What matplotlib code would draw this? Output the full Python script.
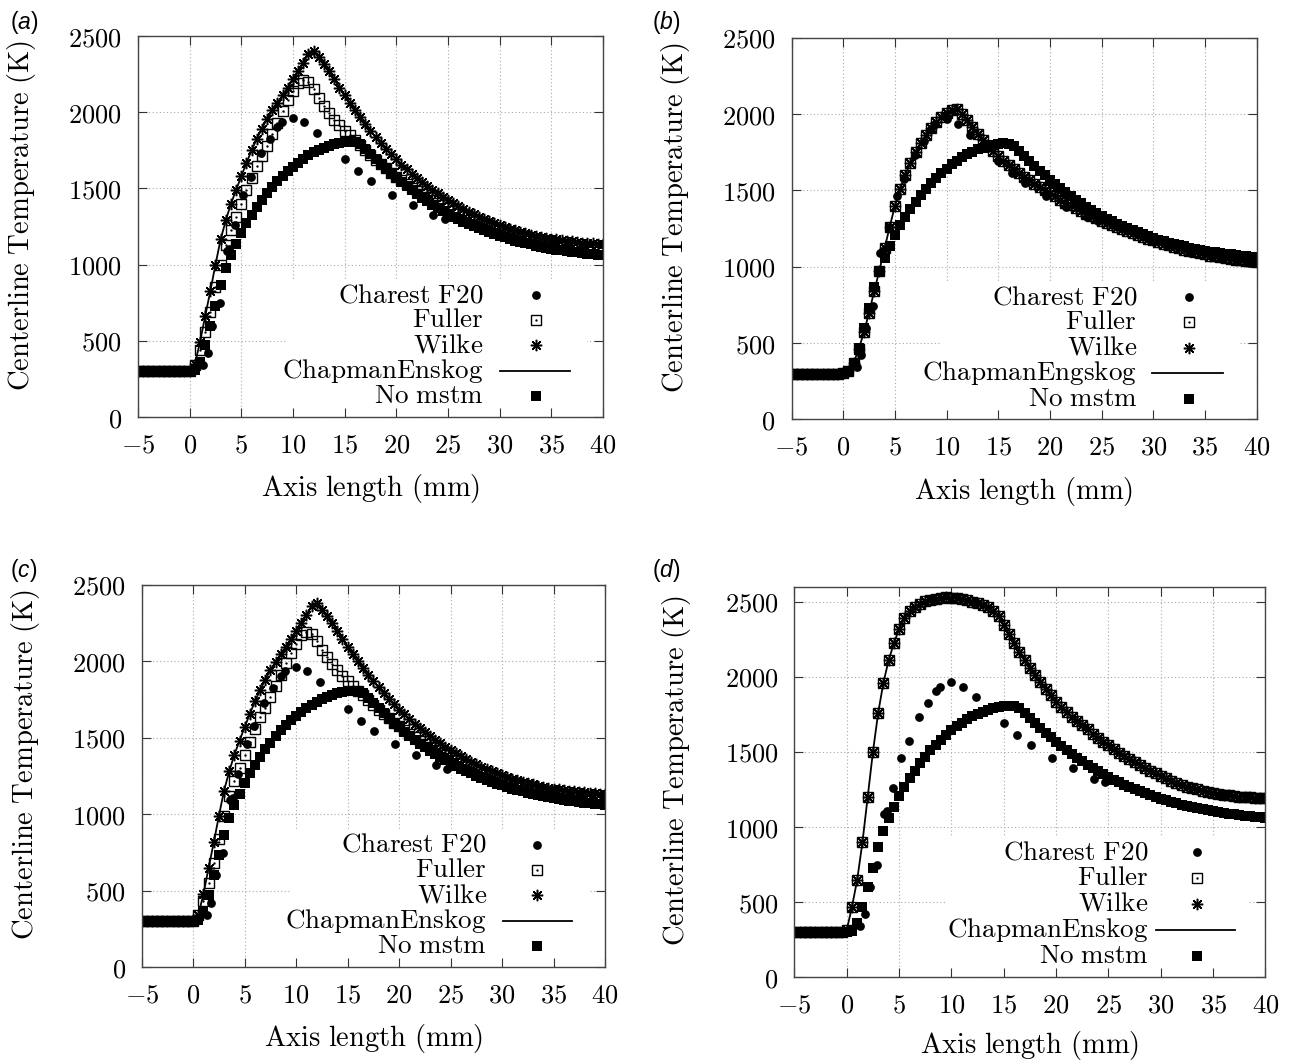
import numpy as np
import matplotlib
matplotlib.use('Agg')
import matplotlib.pyplot as plt
from matplotlib.patches import Rectangle

plt.rcParams['mathtext.fontset'] = 'cm'
plt.rcParams['mathtext.it'] = 'Liberation Sans:italic'
plt.rcParams['mathtext.rm'] = 'Liberation Sans'
plt.rcParams['mathtext.sf'] = 'Liberation Sans'
plt.rcParams['mathtext.bf'] = 'Liberation Sans:bold'

# ---------------- data ----------------
# sampling positions along the axis (mm), every 0.5 mm from -5 to 40
x_mm = np.arange(-5.0, 40.01, 0.5)

t_plateau = [300, 300, 300, 300, 300, 300, 300, 300, 300, 300]  # -5 .. -0.5 mm

t_nomstm = t_plateau + [
    300, 310, 360, 470, 600, 730, 865, 975, 1060, 1135,
    1205, 1270, 1325, 1375, 1425, 1468, 1510, 1548, 1582, 1614,
    1643, 1670, 1695, 1717, 1737, 1754, 1768, 1780, 1790, 1798,
    1804, 1808, 1805, 1790, 1760, 1725, 1692, 1660, 1628, 1598,
    1568, 1540, 1513, 1487, 1462, 1438, 1415, 1393, 1372, 1352,
    1333, 1315, 1298, 1282, 1267, 1252, 1238, 1225, 1212, 1200,
    1189, 1178, 1168, 1158, 1149, 1141, 1133, 1125, 1118, 1111,
    1105, 1099, 1094, 1089, 1084, 1080, 1076, 1072, 1069, 1066,
    1063]

t_a_wilke = t_plateau + [
    305, 345, 490, 660, 825, 1000, 1165, 1290, 1400, 1490,
    1580, 1668, 1750, 1825, 1893, 1958, 2012, 2062, 2112, 2162,
    2215, 2270, 2325, 2385, 2405, 2360, 2318, 2270, 2218, 2162,
    2110, 2060, 2012, 1966, 1922, 1878, 1837, 1797, 1760, 1724,
    1690, 1657, 1626, 1596, 1568, 1541, 1515, 1490, 1467, 1444,
    1423, 1402, 1383, 1364, 1346, 1329, 1313, 1298, 1284, 1270,
    1257, 1245, 1234, 1224, 1214, 1205, 1197, 1189, 1182, 1176,
    1170, 1165, 1160, 1156, 1152, 1148, 1145, 1142, 1139, 1137,
    1135]

t_a_fuller = t_plateau + [
    303, 340, 440, 560, 690, 850, 1000, 1130, 1230, 1312,
    1400, 1488, 1570, 1648, 1712, 1780, 1858, 1930, 2008, 2078,
    2138, 2192, 2212, 2196, 2150, 2092, 2040, 1992, 1952, 1915,
    1880, 1848, 1815, 1783, 1750, 1718, 1688, 1659, 1631, 1604,
    1578, 1553, 1529, 1506, 1484, 1463, 1443, 1424, 1406, 1388,
    1371, 1355, 1339, 1324, 1310, 1296, 1283, 1270, 1258, 1246,
    1235, 1224, 1214, 1204, 1195, 1186, 1178, 1170, 1162, 1155,
    1148, 1141, 1135, 1129, 1123, 1117, 1112, 1107, 1102, 1098,
    1094]

t_a_chapman = t_a_wilke

t_c_wilke = t_plateau + [
    305, 340, 480, 650, 815, 990, 1155, 1280, 1390, 1480,
    1570, 1656, 1738, 1812, 1880, 1943, 1996, 2046, 2095, 2145,
    2197, 2250, 2303, 2360, 2380, 2338, 2298, 2252, 2202, 2148,
    2097, 2048, 2001, 1956, 1913, 1870, 1830, 1791, 1754, 1719,
    1685, 1653, 1622, 1593, 1565, 1538, 1512, 1488, 1465, 1442,
    1421, 1400, 1381, 1362, 1344, 1327, 1311, 1296, 1282, 1268,
    1255, 1243, 1232, 1222, 1212, 1203, 1195, 1187, 1180, 1174,
    1168, 1163, 1158, 1154, 1150, 1146, 1143, 1140, 1137, 1135,
    1133]

t_c_fuller = t_plateau + [
    303, 338, 435, 552, 680, 838, 988, 1118, 1218, 1300,
    1388, 1475, 1556, 1633, 1697, 1764, 1840, 1911, 1988, 2057,
    2116, 2170, 2190, 2176, 2132, 2076, 2026, 1980, 1941, 1905,
    1871, 1840, 1808, 1777, 1745, 1714, 1684, 1655, 1627, 1600,
    1575, 1550, 1526, 1503, 1481, 1460, 1440, 1421, 1403, 1385,
    1368, 1352, 1336, 1321, 1307, 1293, 1280, 1267, 1255, 1243,
    1232, 1221, 1211, 1201, 1192, 1183, 1175, 1167, 1159, 1152,
    1145, 1138, 1132, 1126, 1120, 1114, 1109, 1104, 1099, 1095,
    1091]

t_c_chapman = t_c_wilke

# panel (b): Fuller, Wilke and Chapman-Enskog coincide
t_b_mix = t_plateau + [
    302, 318, 370, 460, 570, 700, 840, 975, 1120, 1262,
    1398, 1508, 1600, 1680, 1750, 1810, 1862, 1906, 1945, 1978,
    2005, 2028, 2030, 2000, 1962, 1918, 1872, 1830, 1790, 1755,
    1724, 1694, 1665, 1639, 1614, 1590, 1566, 1544, 1522, 1501,
    1480, 1460, 1440, 1420, 1401, 1383, 1365, 1348, 1332, 1316,
    1301, 1286, 1272, 1258, 1245, 1232, 1219, 1207, 1195, 1184,
    1173, 1162, 1151, 1141, 1131, 1121, 1112, 1103, 1095, 1087,
    1080, 1073, 1067, 1061, 1056, 1051, 1047, 1043, 1040, 1037,
    1034]

# panel (d): Fuller, Wilke and Chapman-Enskog coincide
t_d_mix = t_plateau + [
    315, 470, 650, 900, 1200, 1500, 1760, 1960, 2110, 2222,
    2318, 2390, 2435, 2465, 2486, 2502, 2514, 2521, 2526, 2528,
    2527, 2524, 2518, 2510, 2500, 2491, 2480, 2463, 2440, 2403,
    2345, 2285, 2225, 2166, 2110, 2060, 2011, 1965, 1920, 1876,
    1835, 1797, 1763, 1731, 1703, 1677, 1650, 1622, 1595, 1568,
    1543, 1518, 1495, 1473, 1452, 1432, 1412, 1393, 1375, 1357,
    1340, 1324, 1309, 1294, 1282, 1270, 1260, 1251, 1243, 1236,
    1229, 1222, 1216, 1211, 1206, 1202, 1199, 1197, 1195, 1194,
    1193]

# Charest F20 reference points
x_charest = [0.5, 1.3, 1.75, 2.2, 2.9, 3.6, 3.85, 4.4, 5.2, 5.9, 6.9, 7.8,
             8.5, 8.9, 10.0, 11.1, 12.3, 15.0, 16.3, 17.6, 19.6, 21.6, 23.6, 24.7]
t_charest = [315, 340, 420, 600, 745, 1090, 1105, 1260, 1460, 1575, 1730, 1825,
             1905, 1935, 1965, 1935, 1865, 1690, 1612, 1547, 1460, 1390, 1323, 1298]

x_ticks = [-5, 0, 5, 10, 15, 20, 25, 30, 35, 40]
y_ticks = [0, 500, 1000, 1500, 2000, 2500]

labels_acd = ['Charest F20', 'Fuller', 'Wilke', 'ChapmanEnskog', 'No mstm']
labels_b = ['Charest F20', 'Fuller', 'Wilke', 'ChapmanEngskog', 'No mstm']

panels = [
    dict(tag='a', pos=[0.1067, 0.6077, 0.3596, 0.3584], ymax=2500,
         fuller=t_a_fuller, wilke=t_a_wilke, ce=t_a_chapman, labels=labels_acd,
         lx=(0.743, 0.856, 0.778, 0.929), lab=(0.008, 0.9915), xl=-0.145),
    dict(tag='b', pos=[0.6122, 0.6055, 0.3596, 0.3590], ymax=2500,
         fuller=t_b_mix, wilke=t_b_mix, ce=t_b_mix, labels=labels_b,
         lx=(0.743, 0.855, 0.776, 0.927), lab=(0.504, 0.9915), xl=-0.145),
    dict(tag='c', pos=[0.1096, 0.0903, 0.3583, 0.3594], ymax=2500,
         fuller=t_c_fuller, wilke=t_c_wilke, ce=t_c_chapman, labels=labels_acd,
         lx=(0.745, 0.854, 0.780, 0.928), lab=(0.008, 0.476), xl=-0.145),
    dict(tag='d', pos=[0.6144, 0.0806, 0.3643, 0.3675], ymax=2600,
         fuller=t_d_mix, wilke=t_d_mix, ce=t_d_mix, labels=labels_acd,
         lx=(0.751, 0.854, 0.768, 0.935), lab=(0.504, 0.476), xl=-0.132),
]

legend_rows = [0.320, 0.254, 0.188, 0.121, 0.054]

fig = plt.figure(figsize=(12.93, 10.63), dpi=100)

TICK_FS = 19
LABEL_FS = 20.6
LEG_FS = 19.5
grid_kw = dict(color='#a8a8a8', linestyle=(0, (1, 2.2)), linewidth=0.8, zorder=0.5)

charest_kw = dict(ls='none', marker='o', ms=6.3, mfc='k', mec='k', mew=0)
fuller_kw = dict(ls='none', marker='s', ms=7.3, mfc='none', mec='k', mew=1.0)
fuller_dot_kw = dict(ls='none', marker='o', ms=1.7, mfc='k', mec='k', mew=0)
wilke_kw = dict(ls='none', marker=(8, 2, 0), ms=8.2, mec='k', mew=1.1)
ce_kw = dict(ls='-', color='k', lw=1.3)
nomstm_kw = dict(ls='none', marker='s', ms=6.5, mfc='k', mec='k', mew=0)

for p in panels:
    ax = fig.add_axes(p['pos'])
    ax.set_xlim(-5, 40)
    ax.set_ylim(0, p['ymax'])
    for v in x_ticks:
        ax.axvline(v, **grid_kw)
    for v in y_ticks:
        ax.axhline(v, **grid_kw)

    # opaque key box
    ax.add_patch(Rectangle((0.32, 0.004), 0.645, 0.356, transform=ax.transAxes,
                           facecolor='white', edgecolor='none', zorder=1))

    ax.plot(x_charest, t_charest, zorder=3, **charest_kw)
    ax.plot(x_mm, p['fuller'], zorder=3, **fuller_kw)
    ax.plot(x_mm, p['fuller'], zorder=3, **fuller_dot_kw)
    ax.plot(x_mm, p['wilke'], zorder=3, **wilke_kw)
    ax.plot(x_mm, p['ce'], zorder=3, **ce_kw)
    ax.plot(x_mm, t_nomstm, zorder=3, **nomstm_kw)

    # key
    tx, mx, l0, l1 = p['lx']
    for lab, y in zip(p['labels'], legend_rows):
        ax.text(tx, y, r'$\mathrm{' + lab.replace(' ', r'\ ') + '}$', transform=ax.transAxes,
                ha='right', va='center', fontsize=LEG_FS, math_fontfamily='cm', zorder=5)
    r = legend_rows
    ax.plot([mx], [r[0]], transform=ax.transAxes, clip_on=False, zorder=5, **charest_kw)
    ax.plot([mx], [r[1]], transform=ax.transAxes, clip_on=False, zorder=5, **fuller_kw)
    ax.plot([mx], [r[1]], transform=ax.transAxes, clip_on=False, zorder=5, **fuller_dot_kw)
    ax.plot([mx], [r[2]], transform=ax.transAxes, clip_on=False, zorder=5, **wilke_kw)
    ax.plot([l0, l1], [r[3], r[3]], transform=ax.transAxes, clip_on=False, zorder=5, **ce_kw)
    ax.plot([mx], [r[4]], transform=ax.transAxes, clip_on=False, zorder=5, **nomstm_kw)

    ax.set_xticks(x_ticks)
    ax.set_xticklabels(['$' + str(v) + '$' for v in x_ticks])
    ax.set_yticks(y_ticks)
    ax.set_yticklabels(['$' + str(v) + '$' for v in y_ticks])
    ax.tick_params(axis='both', direction='in', length=6.5, width=0.8, color='#333333',
                   top=True, right=True, labelsize=TICK_FS)
    ax.tick_params(axis='x', pad=11)
    ax.tick_params(axis='y', pad=11.5)
    for s in ax.spines.values():
        s.set_linewidth(1.0)
        s.set_color('#444444')
        s.set_zorder(4)

    ax.set_xlabel(r'$\mathrm{Axis\ length\ (mm)}$', fontsize=LABEL_FS)
    ax.xaxis.set_label_coords(0.5, p['xl'])
    ax.set_ylabel(r'$\mathrm{Centerline\ Temperature\ (K)}$', fontsize=LABEL_FS)
    ax.yaxis.set_label_coords(-0.215, 0.53)

    fig.text(p['lab'][0], p['lab'][1], r'($\mathit{' + p['tag'] + '}$)', fontsize=16.5,
             family='Liberation Sans', math_fontfamily='custom', ha='left', va='top')

fig.savefig('out.png', dpi=100)
